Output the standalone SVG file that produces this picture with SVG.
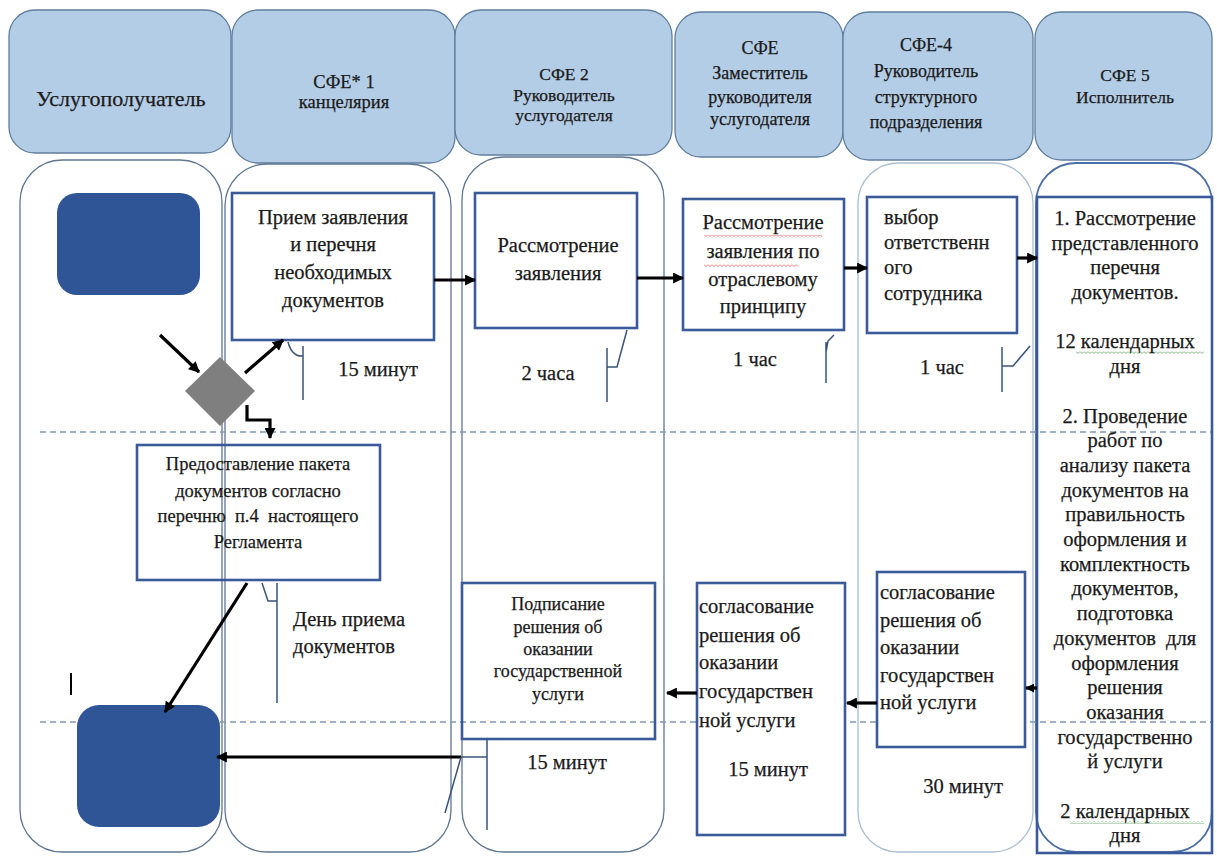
<svg xmlns="http://www.w3.org/2000/svg" width="1217" height="857" viewBox="0 0 1217 857">
<style>
.hd{fill:#b4cde6;stroke:#5f7e9e;stroke-width:1.3}
.lane{fill:#fff;stroke:#5e7692;stroke-width:1.3}
.lane2{fill:#fff;stroke:#a9bed2;stroke-width:1.3}
.lane3{fill:#fff;stroke:#4a6ea6;stroke-width:1.8}
.box{fill:#fff;stroke:#3b5a9a;stroke-width:2.6}
.boxn{fill:none;stroke:#3b5a9a;stroke-width:2.6}
.dash{stroke:#8298b2;stroke-width:1.6;stroke-dasharray:6 4;fill:none}
.con{stroke:#000;stroke-width:3.2;fill:none}
.co{stroke:#3a5478;stroke-width:1.5;fill:none}
.node{fill:#2f5597}
text{stroke:#1a1a1a;stroke-width:0.25}
</style>
<defs>
<marker id="ah" viewBox="0 0 10 10" refX="9" refY="5" markerWidth="12" markerHeight="11" markerUnits="userSpaceOnUse" orient="auto"><path d="M0,0 L10,5 L0,10 z" fill="#000"/></marker>
<marker id="ahs" viewBox="0 0 10 10" refX="9" refY="5" markerWidth="9" markerHeight="9" markerUnits="userSpaceOnUse" orient="auto"><path d="M0,0 L10,5 L0,10 z" fill="#000"/></marker>
<pattern id="wr" width="4" height="3" patternUnits="userSpaceOnUse"><path d="M0,0.5 L2,2.5 L4,0.5" stroke="#e05050" fill="none" stroke-width="0.8"/></pattern>
<pattern id="wg" width="4" height="3" patternUnits="userSpaceOnUse"><path d="M0,0.5 L2,2.5 L4,0.5" stroke="#5aa05a" fill="none" stroke-width="0.8"/></pattern>
</defs>
<rect width="1217" height="857" fill="#fff"/>

<!-- headers -->
<g id="h1"><rect class="hd" x="9" y="10" width="222" height="143" rx="26"/>
<text x="121" y="106" font-family="Liberation Serif" font-size="22" text-anchor="middle" fill="#1a1a1a">Услугополучатель</text></g>
<g id="h2"><rect class="hd" x="232" y="10" width="223" height="153" rx="26"/>
<text x="344" y="88" font-family="Liberation Serif" font-size="18.5" text-anchor="middle" fill="#1a1a1a">СФЕ* 1</text>
<text x="344" y="108" font-family="Liberation Serif" font-size="18.5" text-anchor="middle" fill="#1a1a1a">канцелярия</text></g>
<g id="h3"><rect class="hd" x="455" y="10" width="217" height="145" rx="26"/>
<text x="564" y="80" font-family="Liberation Serif" font-size="17.5" text-anchor="middle" fill="#1a1a1a">СФЕ 2</text>
<text x="564" y="101" font-family="Liberation Serif" font-size="17.5" text-anchor="middle" fill="#1a1a1a">Руководитель</text>
<text x="564" y="121" font-family="Liberation Serif" font-size="17.5" text-anchor="middle" fill="#1a1a1a">услугодателя</text></g>
<g id="h4"><rect class="hd" x="675" y="12" width="168" height="145" rx="26"/>
<text x="760" y="54" font-family="Liberation Serif" font-size="18" text-anchor="middle" fill="#1a1a1a">СФЕ</text>
<text x="760" y="79" font-family="Liberation Serif" font-size="18" text-anchor="middle" fill="#1a1a1a">Заместитель</text>
<text x="760" y="103" font-family="Liberation Serif" font-size="18" text-anchor="middle" fill="#1a1a1a">руководителя</text>
<text x="760" y="125" font-family="Liberation Serif" font-size="18" text-anchor="middle" fill="#1a1a1a">услугодателя</text></g>
<g id="h5"><rect class="hd" x="843" y="12" width="190" height="148" rx="26"/>
<text x="926" y="51" font-family="Liberation Serif" font-size="18" text-anchor="middle" fill="#1a1a1a">СФЕ-4</text>
<text x="926" y="77" font-family="Liberation Serif" font-size="18" text-anchor="middle" fill="#1a1a1a">Руководитель</text>
<text x="926" y="103" font-family="Liberation Serif" font-size="18" text-anchor="middle" fill="#1a1a1a">структурного</text>
<text x="926" y="128" font-family="Liberation Serif" font-size="18" text-anchor="middle" fill="#1a1a1a">подразделения</text></g>
<g id="h6"><rect class="hd" x="1035" y="12" width="177" height="148" rx="26"/>
<text x="1125" y="81" font-family="Liberation Serif" font-size="17.5" text-anchor="middle" fill="#1a1a1a">СФЕ 5</text>
<text x="1125" y="103" font-family="Liberation Serif" font-size="17.5" text-anchor="middle" fill="#1a1a1a">Исполнитель</text></g>

<!-- lanes -->
<g id="lanes">
<rect class="lane" x="20" y="160" width="202" height="692" rx="42"/>
<rect class="lane" x="225" y="164" width="226" height="688" rx="42"/>
<rect class="lane" x="462" y="157" width="202" height="695" rx="42"/>
<rect class="lane2" x="858" y="163" width="175" height="689" rx="40"/>
<rect class="lane3" x="1036" y="163" width="176" height="689" rx="40"/>
<line class="dash" x1="40" y1="432" x2="1212" y2="432"/>
<line class="dash" x1="40" y1="722" x2="1212" y2="722"/>
</g>

<!-- nodes -->
<g id="start"><rect class="node" x="57" y="193" width="143" height="102" rx="20"/></g>
<g id="end"><rect class="node" x="77" y="705" width="143" height="122" rx="22"/></g>
<g id="decision"><polygon points="220,357 255,391 220,426 185,391" fill="#7f7f7f"/></g>

<g id="boxA"><rect class="box" x="232" y="193" width="202" height="147"/>
<text x="333" y="224" font-family="Liberation Serif" font-size="20.5" text-anchor="middle" fill="#1a1a1a">Прием заявления</text>
<text x="333" y="251" font-family="Liberation Serif" font-size="20.5" text-anchor="middle" fill="#1a1a1a">и перечня</text>
<text x="333" y="279" font-family="Liberation Serif" font-size="20.5" text-anchor="middle" fill="#1a1a1a">необходимых</text>
<text x="333" y="307" font-family="Liberation Serif" font-size="20.5" text-anchor="middle" fill="#1a1a1a">документов</text></g>

<g id="boxB"><rect class="box" x="475" y="193" width="162" height="135"/>
<text x="558" y="252" font-family="Liberation Serif" font-size="20.5" text-anchor="middle" fill="#1a1a1a">Рассмотрение</text>
<text x="558" y="280" font-family="Liberation Serif" font-size="20.5" text-anchor="middle" fill="#1a1a1a">заявления</text></g>

<g id="boxC"><rect class="box" x="683" y="199" width="161" height="131"/>
<rect x="704" y="235" width="118" height="3" fill="url(#wr)"/>
<rect x="704" y="264" width="94" height="3" fill="url(#wr)"/>
<text x="763" y="229" font-family="Liberation Serif" font-size="20.5" text-anchor="middle" fill="#1a1a1a">Рассмотрение</text>
<text x="763" y="258" font-family="Liberation Serif" font-size="20.5" text-anchor="middle" fill="#1a1a1a">заявления по</text>
<text x="763" y="286" font-family="Liberation Serif" font-size="20.5" text-anchor="middle" fill="#1a1a1a">отраслевому</text>
<text x="763" y="313" font-family="Liberation Serif" font-size="20.5" text-anchor="middle" fill="#1a1a1a">принципу</text></g>

<g id="boxD"><rect class="box" x="867" y="197" width="150" height="136"/>
<text x="884" y="224" font-family="Liberation Serif" font-size="20.5" fill="#1a1a1a">выбор</text>
<text x="884" y="249" font-family="Liberation Serif" font-size="20.5" fill="#1a1a1a">ответственн</text>
<text x="884" y="274" font-family="Liberation Serif" font-size="20.5" fill="#1a1a1a">ого</text>
<text x="884" y="300" font-family="Liberation Serif" font-size="20.5" fill="#1a1a1a">сотрудника</text></g>

<g id="boxE"><rect class="boxn" x="1037" y="197" width="175" height="656" stroke-width="3"/>
<rect x="1076" y="351" width="128" height="3" fill="url(#wg)"/>
<rect x="1070" y="821" width="134" height="3" fill="url(#wg)"/>
<text x="1125" y="225" font-family="Liberation Serif" font-size="20.5" text-anchor="middle" fill="#1a1a1a">1. Рассмотрение</text>
<text x="1125" y="250" font-family="Liberation Serif" font-size="20.5" text-anchor="middle" fill="#1a1a1a">представленного</text>
<text x="1125" y="274" font-family="Liberation Serif" font-size="20.5" text-anchor="middle" fill="#1a1a1a">перечня</text>
<text x="1125" y="299" font-family="Liberation Serif" font-size="20.5" text-anchor="middle" fill="#1a1a1a">документов.</text>
<text x="1125" y="348" font-family="Liberation Serif" font-size="20.5" text-anchor="middle" fill="#1a1a1a">12 календарных</text>
<text x="1125" y="373" font-family="Liberation Serif" font-size="20.5" text-anchor="middle" fill="#1a1a1a">дня</text>
<text x="1125" y="423" font-family="Liberation Serif" font-size="20.5" text-anchor="middle" fill="#1a1a1a">2. Проведение</text>
<text x="1125" y="447" font-family="Liberation Serif" font-size="20.5" text-anchor="middle" fill="#1a1a1a">работ по</text>
<text x="1125" y="472" font-family="Liberation Serif" font-size="20.5" text-anchor="middle" fill="#1a1a1a">анализу пакета</text>
<text x="1125" y="497" font-family="Liberation Serif" font-size="20.5" text-anchor="middle" fill="#1a1a1a">документов на</text>
<text x="1125" y="521" font-family="Liberation Serif" font-size="20.5" text-anchor="middle" fill="#1a1a1a">правильность</text>
<text x="1125" y="546" font-family="Liberation Serif" font-size="20.5" text-anchor="middle" fill="#1a1a1a">оформления и</text>
<text x="1125" y="571" font-family="Liberation Serif" font-size="20.5" text-anchor="middle" fill="#1a1a1a">комплектность</text>
<text x="1125" y="595" font-family="Liberation Serif" font-size="20.5" text-anchor="middle" fill="#1a1a1a">документов,</text>
<text x="1125" y="620" font-family="Liberation Serif" font-size="20.5" text-anchor="middle" fill="#1a1a1a">подготовка</text>
<text x="1125" y="645" font-family="Liberation Serif" font-size="20.5" text-anchor="middle" fill="#1a1a1a" xml:space="preserve">документов  для</text>
<text x="1125" y="670" font-family="Liberation Serif" font-size="20.5" text-anchor="middle" fill="#1a1a1a">оформления</text>
<text x="1125" y="694" font-family="Liberation Serif" font-size="20.5" text-anchor="middle" fill="#1a1a1a">решения</text>
<text x="1125" y="719" font-family="Liberation Serif" font-size="20.5" text-anchor="middle" fill="#1a1a1a">оказания</text>
<text x="1125" y="744" font-family="Liberation Serif" font-size="20.5" text-anchor="middle" fill="#1a1a1a">государственно</text>
<text x="1125" y="768" font-family="Liberation Serif" font-size="20.5" text-anchor="middle" fill="#1a1a1a">й услуги</text>
<text x="1125" y="818" font-family="Liberation Serif" font-size="20.5" text-anchor="middle" fill="#1a1a1a">2 календарных</text>
<text x="1125" y="842" font-family="Liberation Serif" font-size="20.5" text-anchor="middle" fill="#1a1a1a">дня</text></g>

<g id="boxF"><rect class="box" x="877" y="572" width="148" height="175"/>
<text x="880" y="599" font-family="Liberation Serif" font-size="20.5" fill="#1a1a1a">согласование</text>
<text x="880" y="627" font-family="Liberation Serif" font-size="20.5" fill="#1a1a1a">решения об</text>
<text x="880" y="654" font-family="Liberation Serif" font-size="20.5" fill="#1a1a1a">оказании</text>
<text x="880" y="682" font-family="Liberation Serif" font-size="20.5" fill="#1a1a1a">государствен</text>
<text x="880" y="709" font-family="Liberation Serif" font-size="20.5" fill="#1a1a1a">ной услуги</text>
<text x="963" y="793" font-family="Liberation Serif" font-size="20.5" text-anchor="middle" fill="#1a1a1a">30 минут</text></g>

<g id="boxG"><rect class="box" x="697" y="583" width="148" height="252"/>
<text x="699" y="613" font-family="Liberation Serif" font-size="20.5" fill="#1a1a1a">согласование</text>
<text x="699" y="642" font-family="Liberation Serif" font-size="20.5" fill="#1a1a1a">решения об</text>
<text x="699" y="669" font-family="Liberation Serif" font-size="20.5" fill="#1a1a1a">оказании</text>
<text x="699" y="698" font-family="Liberation Serif" font-size="20.5" fill="#1a1a1a">государствен</text>
<text x="699" y="727" font-family="Liberation Serif" font-size="20.5" fill="#1a1a1a">ной услуги</text>
<text x="768" y="776" font-family="Liberation Serif" font-size="20.5" text-anchor="middle" fill="#1a1a1a">15 минут</text></g>

<g id="boxH"><rect class="boxn" x="462" y="583" width="193" height="156"/>
<text x="558" y="610" font-family="Liberation Serif" font-size="18" text-anchor="middle" fill="#1a1a1a">Подписание</text>
<text x="558" y="633" font-family="Liberation Serif" font-size="18" text-anchor="middle" fill="#1a1a1a">решения об</text>
<text x="558" y="655" font-family="Liberation Serif" font-size="18" text-anchor="middle" fill="#1a1a1a">оказании</text>
<text x="558" y="677" font-family="Liberation Serif" font-size="18" text-anchor="middle" fill="#1a1a1a">государственной</text>
<text x="558" y="700" font-family="Liberation Serif" font-size="18" text-anchor="middle" fill="#1a1a1a">услуги</text>
<text x="567" y="769" font-family="Liberation Serif" font-size="20.5" text-anchor="middle" fill="#1a1a1a">15 минут</text></g>

<g id="boxI"><rect class="boxn" x="137" y="445" width="243" height="135"/>
<text x="258" y="470" font-family="Liberation Serif" font-size="18.5" text-anchor="middle" fill="#1a1a1a">Предоставление пакета</text>
<text x="258" y="497" font-family="Liberation Serif" font-size="18.5" text-anchor="middle" fill="#1a1a1a">документов согласно</text>
<text x="258" y="522" font-family="Liberation Serif" font-size="18.5" text-anchor="middle" fill="#1a1a1a" xml:space="preserve">перечню  п.4  настоящего</text>
<text x="258" y="548" font-family="Liberation Serif" font-size="18.5" text-anchor="middle" fill="#1a1a1a">Регламента</text></g>

<!-- time labels -->
<g id="labels">
<text x="378" y="376" font-family="Liberation Serif" font-size="20.5" text-anchor="middle" fill="#1a1a1a">15 минут</text>
<text x="548" y="380" font-family="Liberation Serif" font-size="20.5" text-anchor="middle" fill="#1a1a1a">2 часа</text>
<text x="755" y="366" font-family="Liberation Serif" font-size="20.5" text-anchor="middle" fill="#1a1a1a">1 час</text>
<text x="942" y="374" font-family="Liberation Serif" font-size="20.5" text-anchor="middle" fill="#1a1a1a">1 час</text>
<text x="293" y="626" font-family="Liberation Serif" font-size="20.5" fill="#1a1a1a">День приема</text>
<text x="293" y="653" font-family="Liberation Serif" font-size="20.5" fill="#1a1a1a">документов</text>
<line x1="71" y1="673" x2="71" y2="695" stroke="#000" stroke-width="2"/>
</g>

<!-- connectors -->
<g id="connectors">
<line class="con" x1="160" y1="335" x2="199" y2="372" marker-end="url(#ah)"/>
<line class="con" x1="245" y1="373" x2="283" y2="340" marker-end="url(#ah)"/>
<polyline class="con" points="247,405 247,420 270,420 270,438" marker-end="url(#ah)"/>
<line class="con" x1="434" y1="280" x2="475" y2="280" marker-end="url(#ah)"/>
<line class="con" x1="637" y1="278" x2="683" y2="278" marker-end="url(#ah)"/>
<line class="con" x1="844" y1="268" x2="867" y2="268" marker-end="url(#ah)"/>
<line class="con" x1="1017" y1="258" x2="1037" y2="258" marker-end="url(#ah)"/>
<line class="con" x1="1037" y1="688" x2="1026" y2="688" marker-end="url(#ahs)"/>
<line class="con" x1="877" y1="703" x2="847" y2="703" marker-end="url(#ah)"/>
<line class="con" x1="697" y1="693" x2="667" y2="693" marker-end="url(#ah)"/>
<line class="con" x1="247" y1="583" x2="165" y2="712" stroke-width="2.6" marker-end="url(#ah)"/>
<line class="con" x1="461" y1="757" x2="217" y2="757" stroke-width="3.6" marker-end="url(#ah)"/>
<!-- callout brackets -->
<path class="co" d="M288,342 Q292,357 303,356 M303,346 L303,400"/>
<path class="co" d="M607,348 L607,402 M607,367 L617,367 L627,330"/>
<path class="co" d="M826,342 L826,383 M826,352 L828,341 L834,335"/>
<path class="co" d="M1002,347 L1002,392 M1002,366 L1013,366 L1030,346"/>
<path class="co" d="M262,583 L268,601 L277,601 M277,583 L277,703"/>
<path class="co" d="M487,739 L487,830 M461,757 L487,757 M461,757 L445,813"/>
</g>
</svg>
